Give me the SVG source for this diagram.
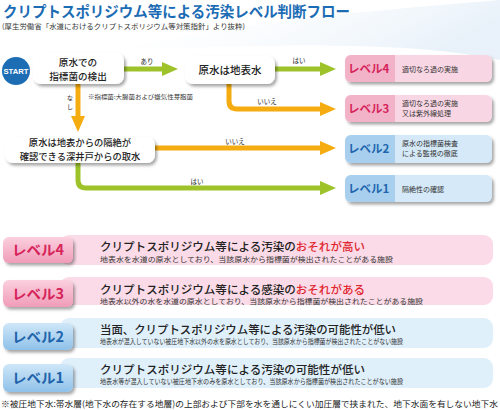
<svg xmlns="http://www.w3.org/2000/svg" width="500" height="410" viewBox="0 0 500 410">
<style>
text{font-family:"Noto Sans CJK JP","Noto Sans",sans-serif;fill:#222}
.nt{font-size:10.5px;text-anchor:middle;font-weight:500}
.nt2{font-size:9.3px;text-anchor:middle;font-weight:500}
.lbl{font-size:6.5px;text-anchor:middle}
.lvr{font-size:11.5px;font-weight:700;fill:#d6245a}
.lvb{font-size:11.5px;font-weight:700;fill:#2165ad}
.ds{font-size:7px;fill:#333}
.bt{font-size:11.5px;font-weight:500}
.bd{font-size:7px;fill:#333}
.bbr{font-size:14px;font-weight:700;fill:#d6245a}
.bbb{font-size:14px;font-weight:700;fill:#1f63ab}
.g{fill:none;stroke:#9ec32a;stroke-width:5}
.o{fill:none;stroke:#f5ac10;stroke-width:5}
</style>
<defs>
<filter id="sh" x="-10%" y="-20%" width="130%" height="160%"><feDropShadow dx="2" dy="2.5" stdDeviation="1.5" flood-color="#000" flood-opacity="0.35"/></filter>
<marker id="ag" markerUnits="userSpaceOnUse" markerWidth="16" markerHeight="14" viewBox="0 0 16 14" refX="1" refY="7" orient="auto"><path d="M0,0 L16,7 L0,14 z" fill="#9ec32a"/></marker>
<marker id="ao" markerUnits="userSpaceOnUse" markerWidth="16" markerHeight="14" viewBox="0 0 16 14" refX="1" refY="7" orient="auto"><path d="M0,0 L16,7 L0,14 z" fill="#f5ac10"/></marker>
<linearGradient id="pk" x1="0" y1="0" x2="0" y2="1"><stop offset="0" stop-color="#fbd0de"/><stop offset="1" stop-color="#f09cb8"/></linearGradient>
<linearGradient id="bl" x1="0" y1="0" x2="0" y2="1"><stop offset="0" stop-color="#cfe7f8"/><stop offset="1" stop-color="#8fc1e9"/></linearGradient>
<linearGradient id="bg" x1="0" y1="0" x2="1" y2="0.3"><stop offset="0" stop-color="#ffffff" stop-opacity="0"/><stop offset="1" stop-color="#e3eef8"/></linearGradient>
</defs>
<rect width="500" height="410" fill="#fff"/>
<path d="M120,50 C250,20 380,10 500,0 L500,60 C400,40 280,45 120,50 z" fill="url(#bg)" opacity="0.8"/>

<text x="3" y="16.5" style="font-size:15px;font-weight:700;fill:#1b6cb4" textLength="347" lengthAdjust="spacingAndGlyphs">クリプトスポリジウム等による汚染レベル判断フロー</text>
<text x="2" y="29" style="font-size:7px;fill:#333" textLength="243" lengthAdjust="spacingAndGlyphs">(厚生労働省「水道におけるクリプトスポリジウム等対策指針」より抜粋)</text>

<g id="connectors">
<path class="g" d="M124,69 H163" marker-end="url(#ag)"/>
<path class="g" d="M275,69 H321" marker-end="url(#ag)"/>
<path class="o" d="M229,84 V101 Q229,109 237,109 H321" marker-end="url(#ao)"/>
<path class="o" d="M78,84 V117" marker-end="url(#ao)"/>
<path class="o" d="M155,148 H321" marker-end="url(#ao)"/>
<path class="g" d="M78,163 V180 Q78,188 86,188 H321" marker-end="url(#ag)"/>
<text class="lbl" x="147" y="64">あり</text>
<text class="lbl" x="299" y="63">はい</text>
<text class="lbl" x="267" y="104">いいえ</text>
<text class="lbl" x="235" y="144">いいえ</text>
<text class="lbl" x="197" y="184">はい</text>
<text class="lbl" x="70" y="100" style="font-size:6px">な<tspan x="70" dy="9">し</tspan></text>
<text x="88" y="99" style="font-size:6px;fill:#333" textLength="105" lengthAdjust="spacingAndGlyphs">※指標菌:大腸菌および嫌気性芽胞菌</text>
</g>

<g id="start">
<circle cx="16" cy="71" r="14" fill="#1d6db5"/>
<text x="16" y="74" style="font-size:8px;font-weight:700;fill:#fff;text-anchor:middle;font-family:'Liberation Sans',sans-serif" textLength="25" lengthAdjust="spacingAndGlyphs">START</text>
</g>

<g id="node-detect">
<rect x="33" y="53" width="91" height="31" rx="8" fill="#fff" filter="url(#sh)"/>
<text class="nt2" x="78" y="66" style="font-size:9.6px">原水での<tspan x="78" dy="13.9">指標菌の検出</tspan></text>
</g>

<g id="node-surface">
<rect x="185" y="56" width="90" height="28" rx="8" fill="#fff" filter="url(#sh)"/>
<text class="nt" x="230" y="74">原水は地表水</text>
</g>

<g id="node-well">
<rect x="5" y="137" width="150" height="26" rx="8" fill="#fff" filter="url(#sh)"/>
<text class="nt2" x="80" y="146">原水は地表からの隔絶が<tspan x="80" dy="13.5">確認できる深井戸からの取水</tspan></text>
</g>

<g id="flow-level4">
<rect x="345" y="55" width="147" height="27" rx="6" fill="#f9d6e3" filter="url(#sh)"/>
<path d="M351,55 H395 V82 H351 A6,6 0 0 1 345,76 V61 A6,6 0 0 1 351,55 z" fill="#f2b3c9"/>
<text class="lvr" x="348" y="73">レベル4</text>
<text class="ds" x="402" y="71.5">適切なろ過の実施</text>
</g>

<g id="flow-level3">
<rect x="345" y="95" width="147" height="27" rx="6" fill="#f9d6e3" filter="url(#sh)"/>
<path d="M351,95 H395 V122 H351 A6,6 0 0 1 345,116 V101 A6,6 0 0 1 351,95 z" fill="#f2b3c9"/>
<text class="lvr" x="348" y="113">レベル3</text>
<text class="ds" x="402" y="105.5">適切なろ過の実施<tspan x="402" dy="10.3">又は紫外線処理</tspan></text>
</g>

<g id="flow-level2">
<rect x="345" y="135" width="147" height="28" rx="6" fill="#d5e9f8" filter="url(#sh)"/>
<path d="M351,135 H395 V163 H351 A6,6 0 0 1 345,157 V141 A6,6 0 0 1 351,135 z" fill="#a8d0ee"/>
<text class="lvb" x="348" y="153">レベル2</text>
<text class="ds" x="402" y="146">原水の指標菌検査<tspan x="402" dy="10.3">による監視の徹底</tspan></text>
</g>

<g id="flow-level1">
<rect x="345" y="175" width="147" height="27" rx="6" fill="#d5e9f8" filter="url(#sh)"/>
<path d="M351,175 H395 V202 H351 A6,6 0 0 1 345,196 V181 A6,6 0 0 1 351,175 z" fill="#a8d0ee"/>
<text class="lvb" x="348" y="193">レベル1</text>
<text class="ds" x="402" y="191.5">隔絶性の確認</text>
</g>

<g id="row-level4">
<rect x="60" y="235" width="433" height="30" rx="9" fill="#fbdbe7"/>
<rect x="3" y="237" width="70" height="26" rx="6" fill="url(#pk)" filter="url(#sh)"/>
<text class="bbr" x="38" y="255" text-anchor="middle" textLength="52" lengthAdjust="spacingAndGlyphs">レベル4</text>
<text class="bt" x="100" y="250.5" textLength="265" lengthAdjust="spacingAndGlyphs">クリプトスポリジウム等による汚染の<tspan style="fill:#e0262e">おそれが高い</tspan></text>
<text class="bd" x="100" y="261.5" textLength="293" lengthAdjust="spacingAndGlyphs">地表水を水道の原水としており、当該原水から指標菌が検出されたことがある施設</text>
</g>

<g id="row-level3">
<rect x="60" y="277" width="433" height="28" rx="9" fill="#fbdbe7"/>
<rect x="3" y="280" width="70" height="27" rx="6" fill="url(#pk)" filter="url(#sh)"/>
<text class="bbr" x="38" y="298.5" text-anchor="middle" textLength="52" lengthAdjust="spacingAndGlyphs">レベル3</text>
<text class="bt" x="100" y="294" textLength="265" lengthAdjust="spacingAndGlyphs">クリプトスポリジウム等による感染の<tspan style="fill:#e0262e">おそれがある</tspan></text>
<text class="bd" x="100" y="303.5" textLength="323" lengthAdjust="spacingAndGlyphs">地表水以外の水を水道の原水としており、当該原水から指標菌が検出されたことがある施設</text>
</g>

<g id="row-level2">
<rect x="60" y="318" width="433" height="30" rx="9" fill="#e0f0fb"/>
<rect x="3" y="323" width="70" height="27" rx="6" fill="url(#bl)" filter="url(#sh)"/>
<text class="bbb" x="38" y="341.5" text-anchor="middle" textLength="52" lengthAdjust="spacingAndGlyphs">レベル2</text>
<text class="bt" x="100" y="334" textLength="296" lengthAdjust="spacingAndGlyphs">当面、クリプトスポリジウム等による汚染の可能性が低い</text>
<text class="bd" x="100" y="343.5" textLength="303" lengthAdjust="spacingAndGlyphs">地表水が混入していない被圧地下水以外の水を原水としており、当該原水から指標菌が検出されたことがない施設</text>
</g>

<g id="row-level1">
<rect x="60" y="358" width="433" height="30" rx="9" fill="#e0f0fb"/>
<rect x="3" y="364" width="70" height="28" rx="6" fill="url(#bl)" filter="url(#sh)"/>
<text class="bbb" x="38" y="383" text-anchor="middle" textLength="52" lengthAdjust="spacingAndGlyphs">レベル1</text>
<text class="bt" x="100" y="374" textLength="265" lengthAdjust="spacingAndGlyphs">クリプトスポリジウム等による汚染の可能性が低い</text>
<text class="bd" x="100" y="383.5" textLength="303" lengthAdjust="spacingAndGlyphs">地表水等が混入していない被圧地下水のみを原水としており、当該原水から指標菌が検出されたことがない施設</text>
</g>

<text x="1" y="407" style="font-size:8.5px;fill:#222" textLength="497" lengthAdjust="spacingAndGlyphs">※被圧地下水:帯水層(地下水の存在する地層)の上部および下部を水を通しにくい加圧層で挟まれた、地下水面を有しない地下水</text>
</svg>
